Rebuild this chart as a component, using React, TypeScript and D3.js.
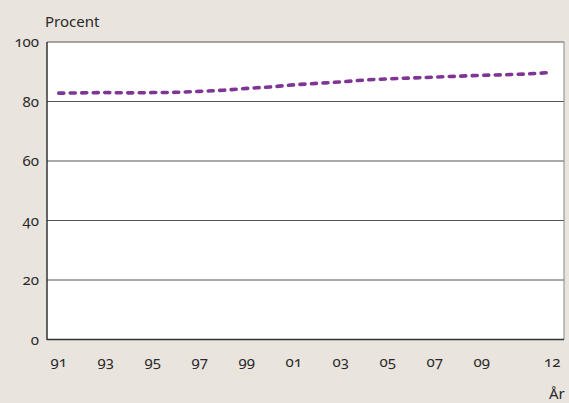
import React from "react";
import * as d3 from "d3";

const years = [1991,1992,1993,1994,1995,1996,1997,1998,1999,2000,2001,2002,2003,2004,2005,2006,2007,2008,2009,2010,2011,2012];
const values = [82.8,82.9,83.0,82.9,83.0,83.1,83.4,83.8,84.4,84.9,85.6,86.1,86.6,87.2,87.6,87.9,88.2,88.5,88.8,89.0,89.3,89.8];
const xTickYears = [1991,1993,1995,1997,1999,2001,2003,2005,2007,2009,2012];
const xTickLabels = ["91","93","95","97","99","01","03","05","07","09","12"];
const yTicks = [0,20,40,60,80,100];

const W = 569, H = 403;
const L = 47, R = 564, T = 42, B = 339.5;

export default function App() {
  const x = d3.scaleLinear().domain([1990.5, 2012.5]).range([L, R]);
  const y = d3.scaleLinear().domain([0, 100]).range([B, T]);
  const line = d3.line<number>().x((_, i) => x(years[i])).y(d => y(d)).curve(d3.curveMonotoneX);
  const font = "'Noto Sans', 'Open Sans', sans-serif";
  const fs = 15;
  return (
    <div style={{ position: "fixed", left: 0, top: 0 }}>
      <svg width={W} height={H} style={{ display: "block", fontFamily: font, fontFeatureSettings: '"onum" 1', fontVariantNumeric: "oldstyle-nums" }}>
        <rect x={0} y={0} width={W} height={H} fill="#e9e4de" />
        <rect x={L} y={T} width={R - L} height={B - T} fill="#ffffff" />
        {yTicks.map(t => (
          <g key={t}>
            <line x1={L} x2={R} y1={y(t)} y2={y(t)} stroke="#555" strokeWidth={1} />
            <text x={39} y={y(t)} dy="0.35em" textAnchor="end" fontSize={fs} fill="#2a2a2a">{t}</text>
          </g>
        ))}
        <line x1={R} x2={R} y1={T} y2={B} stroke="#888" strokeWidth={1} />
        <line x1={L} x2={L} y1={T} y2={B + 0.5} stroke="#333" strokeWidth={1.5} />
        <line x1={L} x2={R} y1={B} y2={B} stroke="#333" strokeWidth={1.5} />
        {xTickYears.map((yr, i) => (
          <text key={yr} x={x(yr)} y={367} textAnchor="middle" fontSize={fs} fill="#2a2a2a">{xTickLabels[i]}</text>
        ))}
        <text x={45} y={27} fontSize={fs} fill="#2a2a2a">Procent</text>
        <text x={549} y={399} fontSize={fs} fill="#2a2a2a">År</text>
        <path d={line(values) || ""} fill="none" stroke="#7f3595" strokeWidth={3.6} strokeDasharray="5 6.5" strokeLinecap="round" />
      </svg>
    </div>
  );
}
